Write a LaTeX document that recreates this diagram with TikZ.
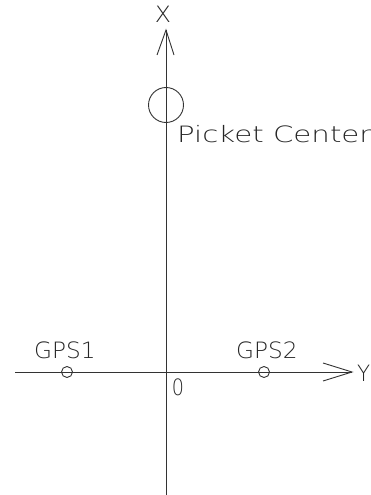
\documentclass[tikz,border=0pt]{standalone}
\usepackage{fontspec}
\usetikzlibrary{calc}
\setmainfont{DejaVu Sans ExtraLight}
\begin{document}
\begin{tikzpicture}[x=1pt,y=-1pt,
  line/.style={draw=black!80,line width=0.9pt},
  lbl/.style={inner sep=0pt,anchor=base west,text=black!85,font=\fontsize{22.5}{22.5}\selectfont},
  pt/.style={circle,draw=black!80,line width=0.9pt,inner sep=0pt,minimum size=#1}]
\useasboundingbox[fill=white] (0,0) rectangle (371,495);
% axes endpoints
\coordinate (xtop) at (166,30);
\coordinate (xbot) at (166,495);
\coordinate (yleft) at (15,372);
\coordinate (ytip) at (352,372);
\coordinate (o) at (166,372);
\draw[line] (xbot) -- (xtop);
\draw[line] (yleft) -- (ytip);
% arrowheads
\draw[line] ($(xtop)+(-9,25)$) -- (xtop) -- ($(xtop)+(8,25)$);
\draw[line] ($(ytip)+(-29,-9)$) -- (ytip) -- ($(ytip)+(-29,9)$);
% circles
\node[pt=35pt] (pc) at (166,105) {};
\node[pt=11pt] (g1) at (67,372) {};
\node[pt=11pt] (g2) at (264,372) {};
% labels
\node[lbl,anchor=base] (xl) at (163,23) {\scalebox{1.05}[1]{X}};
\node[lbl,anchor=base west] (yl) at (357,381) {\scalebox{0.95}[1]{Y}};
\node[lbl] (pcl) at (177,142) {\scalebox{1.3}[1]{Picket Center}};
\node[lbl] (g1l) at (34,358) {\scalebox{1.03}[1]{GPS1}};
\node[lbl] (g2l) at (236,358) {\scalebox{1.03}[1]{GPS2}};
\node[lbl,anchor=base] (ol) at (178,395) {\scalebox{0.85}[1]{0}};
\end{tikzpicture}
\end{document}
